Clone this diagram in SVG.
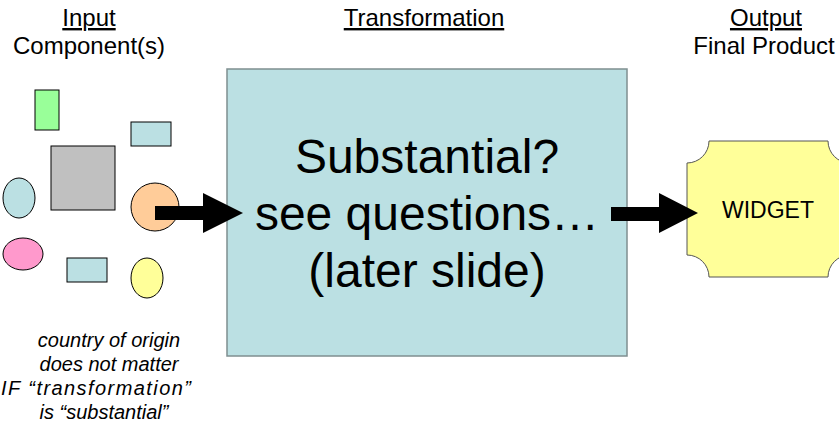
<svg xmlns="http://www.w3.org/2000/svg" width="839" height="431" viewBox="0 0 839 431">
<style>
text{font-family:"Liberation Sans",Arial,sans-serif;fill:#000;text-anchor:middle}
.h{font-size:24px}
.u{text-decoration:underline}
.big{font-size:48px}
.it{font-size:20px;font-style:italic}
.shp{stroke:#000;stroke-width:1}
.arrow{fill:#000}
</style>
<rect width="839" height="431" fill="#fff"/>
<g id="headers">
<text class="h u" x="89" y="26">Input</text>
<text class="h" x="89" y="54">Component(s)</text>
<text class="h u" x="424" y="26">Transformation</text>
<text class="h u" x="766" y="26">Output</text>
<text class="h" x="764" y="54">Final Product</text>
</g>
<g id="components">
<rect class="shp" x="35" y="90" width="24" height="40" fill="#99FF99"/>
<rect class="shp" x="131" y="122" width="40" height="24" fill="#BBE0E3"/>
<rect class="shp" x="51" y="146" width="64" height="64" fill="#C0C0C0"/>
<ellipse class="shp" cx="19" cy="198" rx="16" ry="20" fill="#BBE0E3"/>
<circle class="shp" cx="155" cy="207" r="24" fill="#FFCC99"/>
<ellipse class="shp" cx="23" cy="254" rx="20" ry="16" fill="#FF99CC"/>
<rect class="shp" x="67" y="258" width="40" height="24" fill="#BBE0E3"/>
<ellipse class="shp" cx="147" cy="278" rx="16" ry="20" fill="#FFFF99"/>
</g>
<g id="transformation">
<rect x="227" y="69" width="400" height="287" fill="#BBE0E3" stroke="#7F8F90" stroke-width="1.5"/>
<text class="big" x="427" y="173">Substantial?</text>
<text class="big" x="427" y="230">see questions…</text>
<text class="big" x="427" y="287">(later slide)</text>
</g>
<g id="widget">
<path d="M709 141 L828 141 A22 22 0 0 0 850 163 L850 255 A22 22 0 0 0 828 277 L709 277 A22 22 0 0 0 687 255 L687 163 A22 22 0 0 0 709 141 Z" fill="#FFFF99" stroke="#555" stroke-width="1"/>
<text x="768" y="218" style="font-size:23px">WIDGET</text>
</g>
<g id="note">
<text class="it" x="109" y="347">country of origin</text>
<text class="it" x="109" y="371">does not matter</text>
<text class="it" x="1" y="395" style="text-anchor:start" textLength="190" lengthAdjust="spacing">IF “transformation”</text>
<text class="it" x="104" y="419">is “substantial”</text>
</g>
<g id="connectors">
<polygon class="arrow" points="155,206 203,206 203,193 243,213 203,233 203,220 155,220"/>
<polygon class="arrow" points="611,207 659,207 659,193 698,213 659,233 659,221 611,221"/>
</g>
</svg>
